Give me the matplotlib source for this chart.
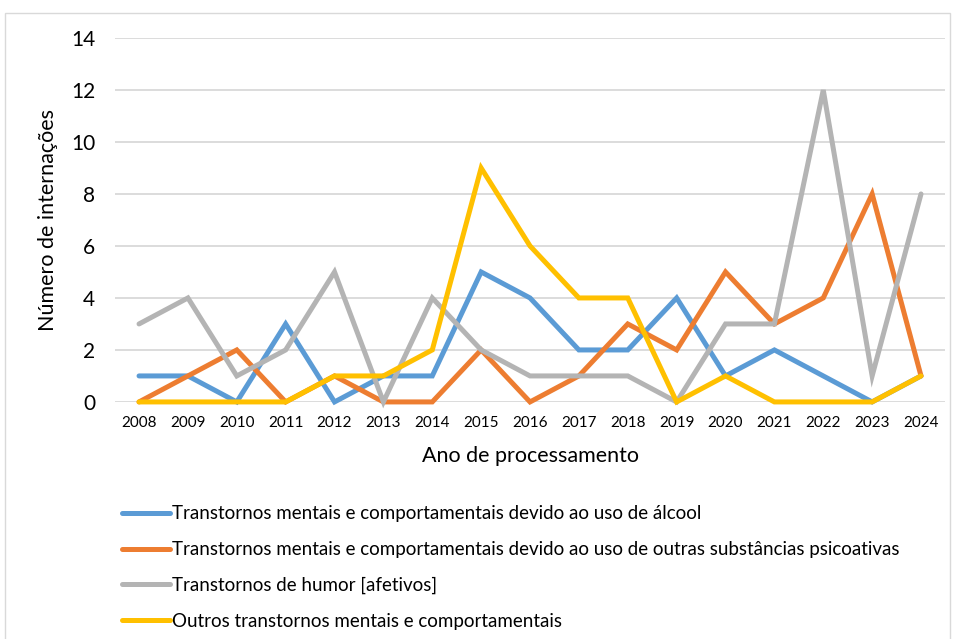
import matplotlib.pyplot as plt
from matplotlib.patches import Rectangle

years = [str(y) for y in range(2008, 2025)]
alcool = [1, 1, 0, 3, 0, 1, 1, 5, 4, 2, 2, 4, 1, 2, 1, 0, 1]
outras_subst = [0, 1, 2, 0, 1, 0, 0, 2, 0, 1, 3, 2, 5, 3, 4, 8, 1]
humor = [3, 4, 1, 2, 5, 0, 4, 2, 1, 1, 1, 0, 3, 3, 12, 1, 8]
outros = [0, 0, 0, 0, 1, 1, 2, 9, 6, 4, 4, 0, 1, 0, 0, 0, 1]

series = [
    ("Transtornos mentais e comportamentais devido ao uso de álcool", alcool, "#5b9bd5"),
    ("Transtornos mentais e comportamentais devido ao uso de outras substâncias psicoativas", outras_subst, "#ed7d31"),
    ("Transtornos de humor [afetivos]", humor, "#b4b4b4"),
    ("Outros transtornos mentais e comportamentais", outros, "#ffc000"),
]

plt.rcParams['font.family'] = ['Lato', 'DejaVu Sans']

fig = plt.figure(figsize=(9.55, 6.39), dpi=100)
ax = fig.add_axes([0.12, 0.371, 0.87, 0.5695])

x = list(range(len(years)))
for label, vals, color in series:
    ax.plot(x, vals, color=color, lw=3.6, label=label, clip_on=False,
            solid_joinstyle='miter', solid_capstyle='round')

ax.set_xlim(-0.5, len(years) - 0.5)
ax.set_ylim(0, 14)
ax.set_yticks(range(0, 15, 2))
ax.set_xticks(x)
ax.set_xticklabels(years)
ax.tick_params(axis='y', length=0, pad=14, labelsize=15)
ax.tick_params(axis='x', length=0, pad=10, labelsize=11)
ax.grid(axis='y', color='#d9d9d9', lw=1.3)
ax.set_axisbelow(True)
for s in ax.spines.values():
    s.set_visible(False)

ax.set_ylabel("Número de internações", fontsize=15.5, labelpad=9)
ax.set_xlabel("Ano de processamento", fontsize=15.5, labelpad=12)

fig.legend(loc='upper left', bbox_to_anchor=(0.128, 0.209), frameon=False,
           fontsize=13.5, handlelength=2.55, handletextpad=0.1,
           labelspacing=1.0, borderpad=0, borderaxespad=0)

fig.patches.append(Rectangle((0.005, -0.01), 0.99, 0.99, transform=fig.transFigure,
                             fill=False, edgecolor='#d9d9d9', lw=1))

fig.savefig("out.png", dpi=100)
